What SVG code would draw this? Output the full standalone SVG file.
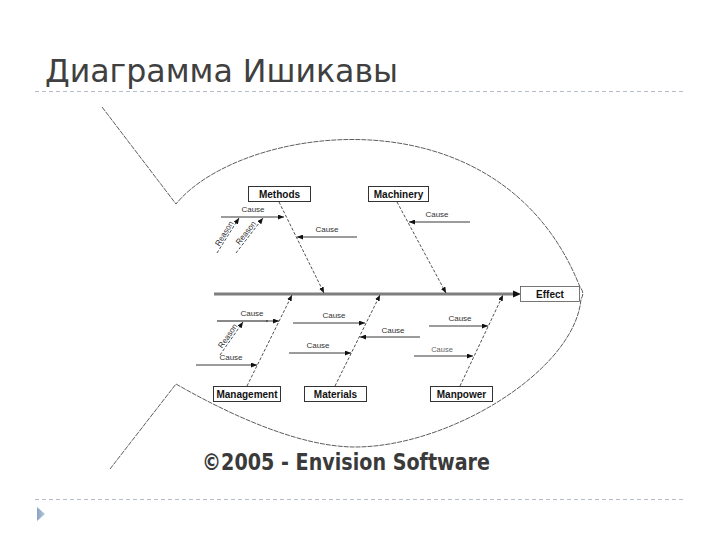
<svg xmlns="http://www.w3.org/2000/svg" width="720" height="540" viewBox="0 0 720 540">
<defs>
<marker id="ah" markerWidth="6" markerHeight="5" refX="6" refY="2.5" orient="auto" markerUnits="userSpaceOnUse">
<path d="M0,0 L6,2.5 L0,5 Z" fill="#111"/>
</marker>
<linearGradient id="tri" x1="0" y1="0" x2="1" y2="0">
<stop offset="0" stop-color="#8aa2c2"/>
<stop offset="1" stop-color="#b8c8dc"/>
</linearGradient>
</defs>
<style>
.rule{stroke:#b4bcc6;stroke-width:1;stroke-dasharray:4 3;fill:none}
.fish{stroke:#333;stroke-width:0.8;fill:none;stroke-dasharray:5 1}
.bone{stroke:#222;stroke-width:0.8;fill:none;stroke-dasharray:3 1.8}
.cause{stroke:#222;stroke-width:0.9;fill:none}
.spine{stroke:#7f7f7f;stroke-width:3;fill:none}
.box{fill:#fff;stroke:#333;stroke-width:1}
.lbl{font-family:"Liberation Sans",Arial,sans-serif;font-weight:bold;font-size:10px;fill:#111;text-anchor:middle}
.ct{font-family:"Liberation Sans",Arial,sans-serif;font-size:8px;fill:#333;text-anchor:middle}
</style>
<rect width="720" height="540" fill="#fff"/>
<text x="45" y="82" font-family="DejaVu Sans, sans-serif" font-size="32" fill="#404040" textLength="353" lengthAdjust="spacingAndGlyphs">Диаграмма Ишикавы</text>
<line class="rule" x1="35" y1="91.5" x2="686" y2="91.5"/>
<line class="rule" x1="35" y1="499.5" x2="686" y2="499.5"/>
<path d="M37,507 L45,514 L37,521 Z" fill="url(#tri)"/>

<g id="fish-outline">
<path class="fish" d="M102,107 L176,204 C240,125 500,85 580,287 Q585,293 581,299 C575,370 450,447 355,447 C300,447 230,415 176,384 L110,469"/>
</g>

<g id="connectors">
<line class="spine" x1="214" y1="294" x2="514" y2="294"/>
<path d="M513,290.5 L521,294 L513,297.5 Z" fill="#111"/>
<line class="bone" x1="279" y1="202" x2="324" y2="293" marker-end="url(#ah)"/>
<line class="bone" x1="397" y1="202" x2="446" y2="293" marker-end="url(#ah)"/>
<line class="bone" x1="247" y1="386" x2="292" y2="295" marker-end="url(#ah)"/>
<line class="bone" x1="335" y1="386" x2="380" y2="295" marker-end="url(#ah)"/>
<line class="bone" x1="460" y1="386" x2="503" y2="295" marker-end="url(#ah)"/>
<line class="cause" x1="221" y1="217" x2="284" y2="217" marker-end="url(#ah)"/>
<line class="bone" x1="217" y1="253" x2="239" y2="218" marker-end="url(#ah)"/>
<line class="bone" x1="236" y1="253" x2="263" y2="218" marker-end="url(#ah)"/>
<line class="cause" x1="357" y1="237" x2="297" y2="237" marker-end="url(#ah)"/>
<line class="cause" x1="470" y1="222" x2="409" y2="222" marker-end="url(#ah)"/>
<line class="cause" x1="217" y1="321" x2="268" y2="321" style="stroke:#888;stroke-width:2.2"/>
<line class="cause" x1="266" y1="321" x2="279" y2="321" marker-end="url(#ah)"/>
<line class="bone" x1="220" y1="355" x2="243" y2="322" marker-end="url(#ah)"/>
<line class="cause" x1="196" y1="365" x2="257" y2="365" marker-end="url(#ah)"/>
<line class="cause" x1="293" y1="323" x2="365" y2="323" marker-end="url(#ah)"/>
<line class="cause" x1="289" y1="353" x2="351" y2="353" marker-end="url(#ah)"/>
<line class="cause" x1="420" y1="337" x2="360" y2="337" marker-end="url(#ah)"/>
<line class="cause" x1="429" y1="326" x2="488" y2="326" marker-end="url(#ah)"/>
<line class="cause" x1="414" y1="356" x2="473" y2="356" marker-end="url(#ah)"/>
<text class="ct" x="253" y="212">Cause</text>
<text class="ct" x="327" y="232">Cause</text>
<text class="ct" x="437" y="217">Cause</text>
<text class="ct" x="252" y="316">Cause</text>
<text class="ct" x="231" y="360">Cause</text>
<text class="ct" x="334" y="318">Cause</text>
<text class="ct" x="318" y="348">Cause</text>
<text class="ct" x="393" y="333">Cause</text>
<text class="ct" x="460" y="321">Cause</text>
<text class="ct" x="442" y="352" style="fill:#666;font-size:7.5px">Cause</text>
<text class="ct" transform="translate(226.5,235) rotate(-58)">Reason</text>
<text class="ct" transform="translate(248,234.5) rotate(-52)">Reason</text>
<text class="ct" transform="translate(230,337.5) rotate(-55)">Reason</text>
</g>

<g id="node-methods"><rect class="box" x="248.5" y="186.5" width="62" height="15"/><text class="lbl" x="279.5" y="197.5">Methods</text></g>
<g id="node-machinery"><rect class="box" x="368.5" y="186.5" width="60" height="15"/><text class="lbl" x="398.5" y="197.5">Machinery</text></g>
<g id="node-management"><rect class="box" x="213.5" y="386.5" width="67" height="15"/><text class="lbl" x="247" y="397.5">Management</text></g>
<g id="node-materials"><rect class="box" x="304.5" y="386.5" width="62" height="15"/><text class="lbl" x="335.5" y="397.5">Materials</text></g>
<g id="node-manpower"><rect class="box" x="430.5" y="386.5" width="62" height="15"/><text class="lbl" x="461.5" y="397.5">Manpower</text></g>
<g id="node-effect"><rect x="520.5" y="286.5" width="59" height="15" fill="#fff" stroke="#555" stroke-width="0.8"/><text class="lbl" x="550" y="297.5">Effect</text></g>

<text x="202" y="469.5" font-family="DejaVu Sans, sans-serif" font-weight="bold" font-size="23" fill="#3a3a3a" textLength="288" lengthAdjust="spacingAndGlyphs">©2005 - Envision Software</text>
</svg>
